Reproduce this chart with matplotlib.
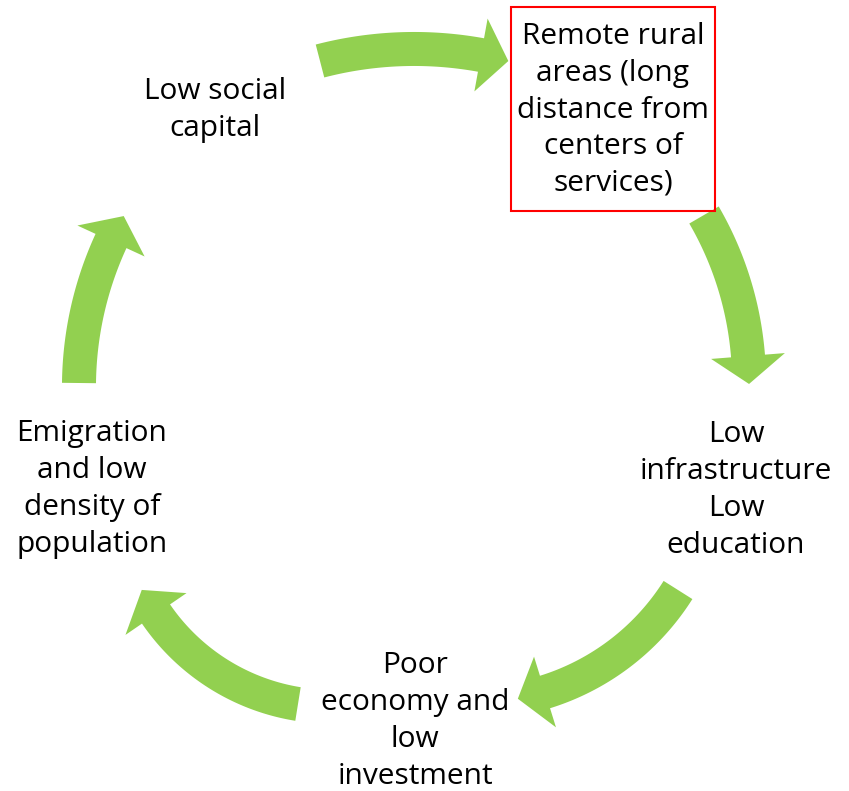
import numpy as np
import matplotlib.pyplot as plt
from matplotlib.patches import Polygon, Rectangle

# Node labels, clockwise starting from the highlighted box
labels = [
    "Remote rural\nareas (long\ndistance from\ncenters of\nservices)",
    "Low\ninfrastructure\nLow\neducation",
    "Poor\neconomy and\nlow\ninvestment",
    "Emigration\nand low\ndensity of\npopulation",
    "Low social\ncapital",
]
label_x = [613, 736, 415, 92, 215]
label_y = [110, 490, 721, 489, 110]

# Arrow paths (pixel coords): tail centre, middle of shaft, base of head
arrow_tail = [(320, 61), (704, 215), (678, 590), (298, 704), (79, 383)]
arrow_mid = [(410, 49), (736, 290), (623, 651), (220, 675), (90, 300)]
arrow_base = [(481, 55), (748, 356), (545, 692), (156, 614), (111, 241)]

GREEN = "#92D050"
SHAFT_W = 34
HEAD_HW = 37
HEAD_LEN = 28


def circle_from_3(p1, p2, p3):
    ax_, ay = p1
    bx, by = p2
    cx, cy = p3
    d = 2 * (ax_ * (by - cy) + bx * (cy - ay) + cx * (ay - by))
    ux = ((ax_**2 + ay**2) * (by - cy) + (bx**2 + by**2) * (cy - ay) + (cx**2 + cy**2) * (ay - by)) / d
    uy = ((ax_**2 + ay**2) * (cx - bx) + (bx**2 + by**2) * (ax_ - cx) + (cx**2 + cy**2) * (bx - ax_)) / d
    r = np.hypot(ax_ - ux, ay - uy)
    return ux, uy, r


def wrap(a):
    return (a + np.pi) % (2 * np.pi) - np.pi


def arc_arrow(tail, mid, base):
    ux, uy, r = circle_from_3(tail, mid, base)
    a0 = np.arctan2(tail[1] - uy, tail[0] - ux)
    am = a0 + wrap(np.arctan2(mid[1] - uy, mid[0] - ux) - a0)
    a1 = am + wrap(np.arctan2(base[1] - uy, base[0] - ux) - am)
    sign = np.sign(a1 - a0)
    t = np.linspace(a0, a1, 80)
    ro = r + SHAFT_W / 2
    ri = r - SHAFT_W / 2
    outer = np.column_stack([ux + ro * np.cos(t), uy + ro * np.sin(t)])
    inner = np.column_stack([ux + ri * np.cos(t[::-1]), uy + ri * np.sin(t[::-1])])
    at = a1 + sign * HEAD_LEN / r
    head = [
        (ux + (r + HEAD_HW) * np.cos(a1), uy + (r + HEAD_HW) * np.sin(a1)),
        (ux + r * np.cos(at), uy + r * np.sin(at)),
        (ux + (r - HEAD_HW) * np.cos(a1), uy + (r - HEAD_HW) * np.sin(a1)),
    ]
    return np.vstack([outer, head, inner])


fig = plt.figure(figsize=(8.49, 7.91), dpi=100)
ax = fig.add_axes([0, 0, 1, 1])
ax.set_xlim(0, 849)
ax.set_ylim(791, 0)
ax.axis("off")

for tail, mid, base in zip(arrow_tail, arrow_mid, arrow_base):
    ax.add_patch(Polygon(arc_arrow(tail, mid, base), closed=True, facecolor=GREEN, edgecolor="none"))

# Highlight box round the first node
ax.add_patch(Rectangle((511, 7), 204, 204, fill=False, edgecolor="#FF0000", linewidth=1.5))

for text, x, y in zip(labels, label_x, label_y):
    ax.text(x, y, text, ha="center", va="center", fontsize=21.5, family="Open Sans",
            linespacing=1.35, color="black")

fig.savefig("out.png", dpi=100)
